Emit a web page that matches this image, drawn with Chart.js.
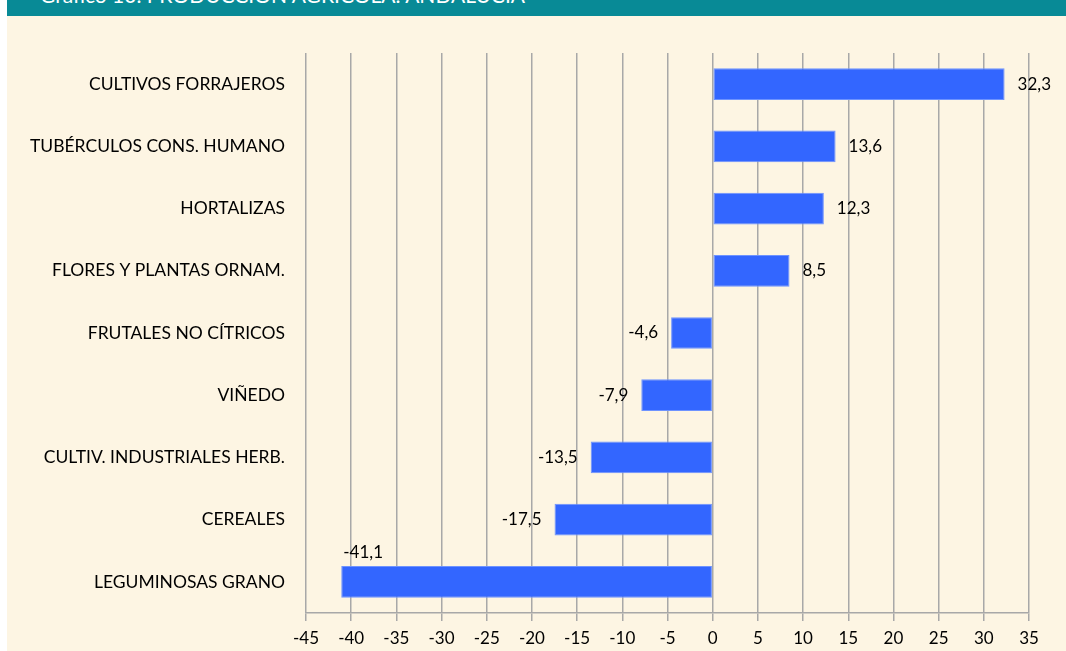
<!DOCTYPE html>
<html>
<head>
<meta charset="utf-8">
<script src="https://cdn.jsdelivr.net/npm/chart.js@4/dist/chart.umd.min.js"></script>
<style>
  html, body { margin: 0; padding: 0; background: #ffffff; width: 1066px; height: 651px; overflow: hidden; }
  #panel { position: absolute; left: 7px; top: 0; width: 1059px; height: 651px; background: #FDF5E3; }
  #header { position: absolute; left: 0; top: 0; width: 1059px; height: 16px; background: #088A96; overflow: hidden; }
  #header span { position: absolute; left: 33px; top: -18px; color: #ffffff; font-family: Lato, "Liberation Sans", sans-serif; font-size: 21px; white-space: nowrap; }
  #wrap { position: absolute; left: 0; top: 16px; width: 1059px; height: 635px; }
</style>
</head>
<body>
<div id="panel">
  <div id="header"><span>Gráfico 10. PRODUCCIÓN AGRÍCOLA. ANDALUCÍA</span></div>
  <div id="wrap"><canvas id="c" width="1059" height="635"></canvas></div>
</div>
<script>
const categories = [
  "CULTIVOS FORRAJEROS",
  "TUBÉRCULOS CONS. HUMANO",
  "HORTALIZAS",
  "FLORES Y PLANTAS ORNAM.",
  "FRUTALES NO CÍTRICOS",
  "VIÑEDO",
  "CULTIV. INDUSTRIALES HERB.",
  "CEREALES",
  "LEGUMINOSAS GRANO"
];
const values = [32.3, 13.6, 12.3, 8.5, -4.6, -7.9, -13.5, -17.5, -41.1];
const xMin = -45, xMax = 35, xStep = 5;

const FONT = 'Lato, "Liberation Sans", sans-serif';

const labelPlugin = {
  id: 'barLabels',
  afterDatasetsDraw(chart) {
    const ctx = chart.ctx;
    const meta = chart.getDatasetMeta(0);
    const area = chart.chartArea;
    ctx.save();
    ctx.font = '17px ' + FONT;
    ctx.fillStyle = '#000000';
    meta.data.forEach((bar, i) => {
      const v = values[i];
      const txt = v.toFixed(1).replace('.', ',');
      const w = ctx.measureText(txt).width;
      const gap = 13;
      if (v >= 0) {
        ctx.textAlign = 'left'; ctx.textBaseline = 'middle';
        ctx.fillText(txt, bar.x + gap, bar.y);
      } else {
        const left = bar.x - gap - w;
        if (left < area.left) {
          ctx.textAlign = 'left'; ctx.textBaseline = 'bottom';
          ctx.fillText(txt, bar.x + 2, bar.y - bar.height / 2 - 5);
        } else {
          ctx.textAlign = 'right'; ctx.textBaseline = 'middle';
          ctx.fillText(txt, bar.x - gap, bar.y);
        }
      }
    });
    ctx.restore();
  }
};

new Chart(document.getElementById('c'), {
  type: 'bar',
  data: {
    labels: categories,
    datasets: [{
      data: values,
      backgroundColor: '#3366FF',
      borderColor: '#6E93FF',
      borderWidth: 1,
      borderSkipped: false,
      barPercentage: 0.51,
      categoryPercentage: 1.0
    }]
  },
  options: {
    indexAxis: 'y',
    responsive: false,
    animation: false,
    layout: { padding: { top: 37, right: 37, left: 0, bottom: 0 } },
    plugins: { legend: { display: false }, tooltip: { enabled: false }, title: { display: false } },
    scales: {
      x: {
        min: xMin, max: xMax,
        ticks: { stepSize: xStep, color: '#000000', font: { family: FONT, size: 17 }, padding: 7 },
        grid: { color: '#A8A8A8', lineWidth: 1.5, tickLength: 8, tickColor: '#A8A8A8' },
        border: { display: true, color: '#A8A8A8', width: 1.5 },
        afterFit(scale) { scale.height = 38; }
      },
      y: {
        ticks: { color: '#000000', font: { family: FONT, size: 17.5 }, padding: 21 },
        grid: { display: false, drawTicks: false },
        border: { display: false },
        afterFit(scale) { scale.width = 299; }
      }
    }
  },
  plugins: [labelPlugin]
});
</script>
</body>
</html>
